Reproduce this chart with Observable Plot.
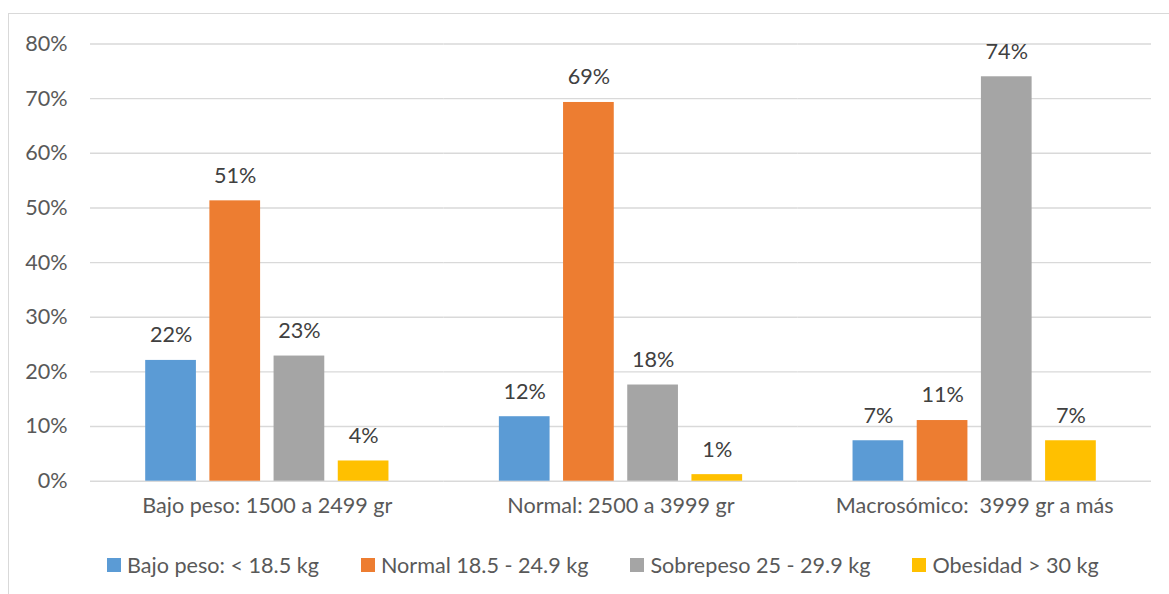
<!DOCTYPE html>
<html>
<head>
<meta charset="utf-8">
<script src="https://cdn.jsdelivr.net/npm/d3@7"></script>
<script src="https://cdn.jsdelivr.net/npm/@observablehq/plot@0.6"></script>
<style>
  html, body { margin: 0; padding: 0; background: #fff; overflow: hidden; }
  body { position: relative; width: 1169px; height: 594px; font-family: Lato, "Open Sans", sans-serif; }
  #frame { position: absolute; left: 8px; top: 13px; width: 1300px; height: 700px;
           border-left: 1px solid #d9d9d9; border-top: 1px solid #d9d9d9; box-sizing: border-box; }
  #chart { position: absolute; left: 0; top: 0; }
  #legend { position: absolute; left: 107px; top: 552px; display: flex; align-items: center;
            font-size: 21.6px; color: #595959; white-space: nowrap; }
  .item { display: flex; align-items: center; margin-right: 42px; }
  .swatch { width: 14px; height: 14px; margin-right: 6px; }
</style>
</head>
<body>
<div id="frame"></div>
<div id="chart"></div>
<div id="legend"></div>
<script>
// Birth weight groups (x facets) and maternal BMI categories (series)
const groups = ["Bajo peso: 1500 a 2499 gr", "Normal: 2500 a 3999 gr", "Macrosómico:  3999 gr a más"];
const series = ["Bajo peso: < 18.5 kg", "Normal 18.5 - 24.9 kg", "Sobrepeso 25 - 29.9 kg", "Obesidad > 30 kg"];
const colors = ["#5B9BD5", "#ED7D31", "#A5A5A5", "#FFC000"];

// Share of each BMI category within each birth weight group
const bajoPeso    = [0.221, 0.513, 0.229, 0.037];
const normal      = [0.118, 0.693, 0.176, 0.012];
const macrosomico = [0.074, 0.111, 0.740, 0.074];

const yTicks = [0, 0.1, 0.2, 0.3, 0.4, 0.5, 0.6, 0.7, 0.8];

const table = [bajoPeso, normal, macrosomico].flatMap((vals, gi) =>
  vals.map((v, si) => ({group: groups[gi], series: series[si], value: v}))
);

const pct = d3.format(".0%");
const fs = 21.6;

const chart = Plot.plot({
  width: 1169,
  height: 540,
  marginLeft: 90,
  marginRight: 18,
  marginTop: 43.5,
  marginBottom: 59.3,
  style: {fontFamily: "Lato, 'Open Sans', sans-serif", fontSize: fs + "px", background: "transparent"},
  fx: {domain: groups, padding: 0, round: false, axis: null},
  x: {domain: series, paddingInner: 0.21, paddingOuter: 0.86, round: false, axis: null},
  y: {domain: [0, 0.8], axis: null},
  color: {domain: series, range: colors},
  marks: [
    Plot.gridY(yTicks, {stroke: "#d9d9d9", strokeOpacity: 1, strokeWidth: 1.4}),
    Plot.axisY(yTicks, {tickSize: 0, tickPadding: 23, tickFormat: pct, fill: "#595959", fontSize: fs, label: null}),
    Plot.barY(table, {fx: "group", x: "series", y: "value", fill: "series"}),
    Plot.text(table, {fx: "group", x: "series", y: "value", text: d => pct(d.value),
                      dy: -25, fill: "#404040", fontSize: fs}),
    Plot.text(groups, {fx: d => d, text: d => d, frameAnchor: "bottom", dy: 31.5,
                       fill: "#595959", fontSize: fs})
  ]
});
document.getElementById("chart").append(chart);

// Legend below the plot
const legend = document.getElementById("legend");
series.forEach((s, i) => {
  const item = document.createElement("div");
  item.className = "item";
  const sw = document.createElement("span");
  sw.className = "swatch";
  sw.style.background = colors[i];
  const label = document.createElement("span");
  label.textContent = s;
  item.append(sw, label);
  legend.append(item);
});
</script>
</body>
</html>
